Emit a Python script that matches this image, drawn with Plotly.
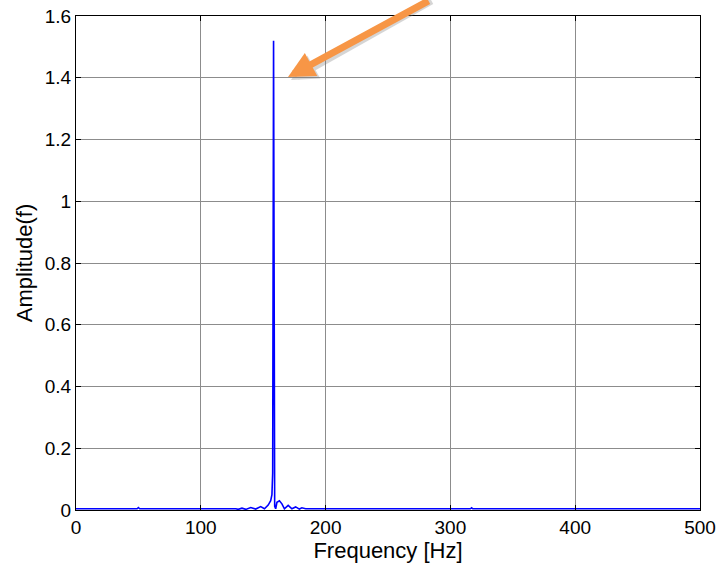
import plotly.graph_objects as go

# Spectrum
freq_hz = [0, 49, 50, 51, 128, 130, 133, 136, 140, 144, 148, 151, 154, 156, 157, 157.6,
           158.3, 158.7, 159.2, 160, 161, 163, 165, 167, 170, 173, 176, 179, 181, 184,
           316, 317, 318, 500]
amplitude = [0.004, 0.004, 0.008, 0.004, 0.004, 0.002, 0.006, 0.002, 0.008, 0.003, 0.011, 0.004,
             0.016, 0.03, 0.05, 0.12, 1.52, 0.05, 0.012, 0.004, 0.025, 0.03, 0.02, 0.004,
             0.015, 0.004, 0.01, 0.003, 0.007, 0.004, 0.004, 0.007, 0.004, 0.004]

x_ticks = [0, 100, 200, 300, 400, 500]
y_ticks = [0, 0.2, 0.4, 0.6, 0.8, 1, 1.2, 1.4, 1.6]

font_family = "Liberation Sans, Arial, sans-serif"

fig = go.Figure()
fig.add_trace(go.Scatter(x=freq_hz, y=amplitude, mode="lines",
                         line=dict(color="#0000FF", width=1.6), showlegend=False))

axis_common = dict(showline=True, linecolor="black", linewidth=1, mirror="ticks",
                   ticks="inside", ticklen=5, tickcolor="black", automargin=False,
                   showgrid=True, gridcolor="#8c8c8c", gridwidth=1,
                   zeroline=False, tickfont=dict(size=19, color="black", family=font_family))

fig.update_xaxes(range=[0, 500], tickvals=x_ticks, **axis_common,
                 title=dict(text="Frequency [Hz]", font=dict(size=22, color="black", family=font_family),
                            standoff=0))
fig.update_yaxes(range=[0, 1.6], tickvals=y_ticks, **axis_common,
                 title=dict(text="Amplitude(f)", font=dict(size=22, color="black", family=font_family),
                            standoff=6))

# Orange pointer arrow (with faint shadow)
fig.add_annotation(xref="paper", yref="paper", x=(291 - 76) / 624, y=(510 - 80) / 494,
                   text="", showarrow=True, arrowhead=2, arrowsize=0.75, arrowwidth=7,
                   arrowcolor="rgba(120,120,120,0.3)", ax=142, ay=-80, standoff=0)
fig.add_annotation(xref="paper", yref="paper", x=(288 - 76) / 624, y=(510 - 77) / 494,
                   text="", showarrow=True, arrowhead=2, arrowsize=0.75, arrowwidth=7,
                   arrowcolor="#F79646", ax=142, ay=-80, standoff=0)

fig.update_layout(width=720, height=563, margin=dict(l=76, r=20, t=16, b=53),
                  plot_bgcolor="white", paper_bgcolor="white",
                  font=dict(family=font_family, color="black"))

fig.write_html("out.html")
